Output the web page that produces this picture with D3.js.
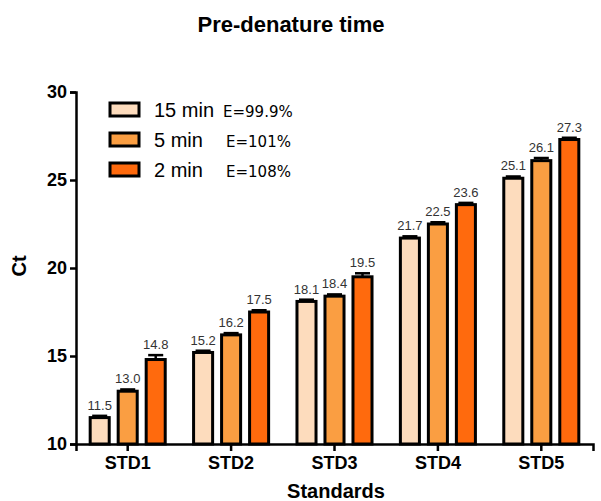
<!DOCTYPE html>
<html>
<head>
<meta charset="utf-8">
<script src="https://cdn.jsdelivr.net/npm/d3@7"></script>
<style>
  body { margin: 0; background: #fff; }
  text { font-family: Arial, "Liberation Sans", sans-serif; }
</style>
</head>
<body>
<svg width="601" height="501"></svg>
<script>
// data
var categories = ["STD1", "STD2", "STD3", "STD4", "STD5"];
var series = ["15 min", "5 min", "2 min"];
var efficiency = ["E=99.9%", "E=101%", "E=108%"];
var ct15 = [11.5, 15.2, 18.1, 21.7, 25.1];
var ct5 = [13.0, 16.2, 18.4, 22.5, 26.1];
var ct2 = [14.8, 17.5, 19.5, 23.6, 27.3];
var err15 = [0.1, 0.1, 0.1, 0.1, 0.1];
var err5 = [0.1, 0.1, 0.1, 0.1, 0.15];
var err2 = [0.25, 0.1, 0.2, 0.1, 0.1];
var yTicks = [10, 15, 20, 25, 30];
var colors = ["#fddcbd", "#fa9e42", "#ff6a0d"];

var svg = d3.select("svg");
var margin = {top: 92, left: 76, right: 8, bottom: 57};

var values = [ct15, ct5, ct2];
var errs = [err15, err5, err2];

var x = d3.scaleBand().domain(categories).range([margin.left, 593]);
var x1 = d3.scaleBand().domain(series).range([-42, 42]).paddingInner(0.32).paddingOuter(0.16);
var y = d3.scaleLinear().domain([10, 30]).range([444, 92]);

// title
svg.append("text")
  .attr("x", 291).attr("y", 32)
  .attr("text-anchor", "middle")
  .style("font-size", "22px").style("font-weight", "bold")
  .text("Pre-denature time");

// bars
var rows = [];
categories.forEach(function(c, i) {
  series.forEach(function(s, j) {
    rows.push({cat: c, s: s, j: j, v: values[j][i], e: errs[j][i]});
  });
});

var g = svg.append("g");
var bar = g.selectAll("g.bar").data(rows).enter().append("g").attr("class", "bar")
  .attr("transform", function(d) { return "translate(" + (x(d.cat) + x.bandwidth() / 2 + x1(d.s)) + ",0)"; });

// error bars behind bars
bar.append("line")
  .attr("x1", x1.bandwidth() / 2).attr("x2", x1.bandwidth() / 2)
  .attr("y1", function(d) { return y(d.v + d.e); })
  .attr("y2", function(d) { return y(d.v); })
  .attr("stroke", "#000").attr("stroke-width", 2.5);
bar.append("line")
  .attr("x1", 2).attr("x2", x1.bandwidth() - 2)
  .attr("y1", function(d) { return y(d.v + d.e); })
  .attr("y2", function(d) { return y(d.v + d.e); })
  .attr("stroke", "#000").attr("stroke-width", 2.5);

bar.append("rect")
  .attr("x", 0)
  .attr("y", function(d) { return y(d.v); })
  .attr("width", x1.bandwidth())
  .attr("height", function(d) { return y(10) - y(d.v); })
  .attr("fill", function(d) { return colors[d.j]; })
  .attr("stroke", "#000").attr("stroke-width", 3);

bar.append("text")
  .attr("x", x1.bandwidth() / 2)
  .attr("y", function(d) { return y(d.v + d.e) - 6; })
  .attr("text-anchor", "middle")
  .style("font-size", "13px").attr("fill", "#333")
  .text(function(d) { return d3.format(".1f")(d.v); });

// axes
var yAxis = d3.axisLeft(y).tickValues(yTicks).tickSize(6).tickPadding(3);
var gy = svg.append("g").attr("transform", "translate(" + margin.left + ",0)").call(yAxis);
gy.select(".domain").attr("stroke-width", 2.5);
gy.selectAll(".tick line").attr("stroke-width", 2.5);
gy.selectAll(".tick text").style("font-size", "18px").style("font-weight", "bold")
  .attr("fill", "#000").attr("font-family", "Arial, 'Liberation Sans', sans-serif");

var xAxis = d3.axisBottom(x).tickSizeOuter(0).tickSize(7).tickPadding(5);
var gx = svg.append("g").attr("transform", "translate(0,444)").call(xAxis);
gx.select(".domain").attr("stroke-width", 2.5);
gx.selectAll(".tick line").attr("stroke-width", 2.5);
gx.selectAll(".tick text").style("font-size", "18px").style("font-weight", "bold")
  .attr("fill", "#000").attr("font-family", "Arial, 'Liberation Sans', sans-serif");

svg.append("text")
  .attr("x", 336).attr("y", 498)
  .attr("text-anchor", "middle")
  .style("font-size", "20px").style("font-weight", "bold")
  .text("Standards");

svg.append("text")
  .attr("transform", "translate(26,266) rotate(-90)")
  .attr("text-anchor", "middle")
  .style("font-size", "20px").style("font-weight", "bold")
  .text("Ct");

// legend
var legend = svg.append("g").attr("transform", "translate(110,103)");
var li = legend.selectAll("g").data(series).enter().append("g")
  .attr("transform", function(d, i) { return "translate(0," + i * 30 + ")"; });
li.append("rect")
  .attr("width", 29).attr("height", 13)
  .attr("fill", function(d, i) { return colors[i]; })
  .attr("stroke", "#000").attr("stroke-width", 3);
li.append("text")
  .attr("x", 44).attr("y", 14)
  .style("font-size", "20px")
  .text(function(d) { return d; });
li.append("text")
  .attr("x", function(d, i) { return i == 0 ? 113 : 116; }).attr("y", 14)
  .attr("font-family", "'DejaVu Sans', sans-serif")
  .style("font-family", "'DejaVu Sans', sans-serif")
  .style("font-size", "15px")
  .text(function(d, i) { return efficiency[i]; });
</script>
</body>
</html>
